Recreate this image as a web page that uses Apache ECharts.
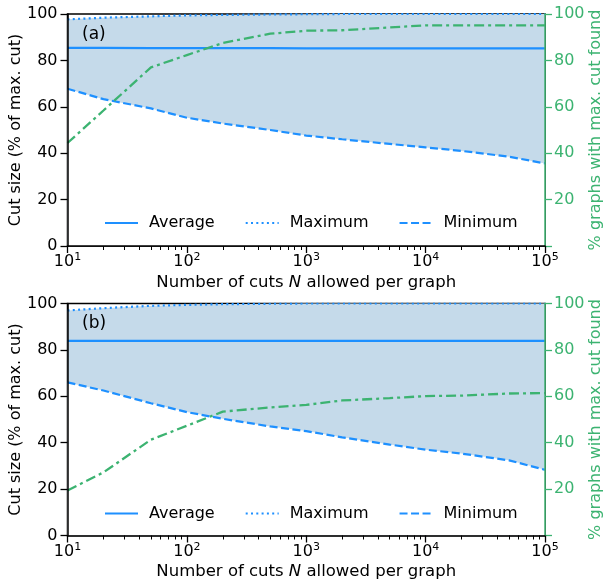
<!DOCTYPE html>
<html><head><meta charset="utf-8">
<script src="https://cdn.jsdelivr.net/npm/echarts@6/dist/echarts.min.js"></script>
<style>html,body{margin:0;padding:0;background:#fff}#c{width:605px;height:586px}</style>
</head><body><div id="c"></div>
<script>
// ---- data ----
const cuts = [10, 20, 50, 100, 200, 500, 1000, 2000, 5000, 10000, 20000, 50000, 100000];
const avgA = [85.4, 85.4, 85.3, 85.3, 85.3, 85.3, 85.2, 85.2, 85.2, 85.2, 85.2, 85.2, 85.2];
const maxA = [97.7, 98.4, 99.0, 99.4, 99.6, 99.8, 99.9, 100, 100, 100, 100, 100, 100];
const minA = [67.8, 63.3, 59.3, 55.3, 52.8, 50.0, 47.6, 46.0, 44.0, 42.5, 41.0, 38.5, 35.6];
const foundA = [44.4, 58.4, 77.0, 82.3, 87.5, 91.5, 92.8, 93.0, 94.2, 95.1, 95.1, 95.1, 95.1];
const avgB = [83.9, 83.9, 83.9, 83.9, 83.9, 83.9, 83.9, 83.9, 83.9, 83.9, 83.9, 83.9, 83.9];
const maxB = [97.0, 98.0, 99.0, 99.4, 99.7, 99.9, 100, 100, 100, 100, 100, 100, 100];
const minB = [66.0, 62.5, 57.0, 53.2, 50.3, 47.0, 45.0, 42.3, 39.2, 37.0, 35.3, 32.4, 28.3];
const foundB = [19.4, 27.2, 41.3, 47.3, 53.4, 55.2, 56.3, 58.2, 59.2, 60.1, 60.3, 61.2, 61.4];
const panelLabels = ['(a)', '(b)'];
const minorTicks = [20,30,40,50,60,70,80,90,200,300,400,500,600,700,800,900,2000,3000,4000,5000,6000,7000,8000,9000,20000,30000,40000,50000,60000,70000,80000,90000];
const legendNames = ['Average', 'Maximum', 'Minimum'];

// ---- style ----
const FONT = 'DejaVu Sans';
const BLUE = '#1e90ff';
const FILL = '#c5daea';
const GREEN = '#3cb371';
const grids = [
  {left: 67.5, right: 60, top: 14, height: 232},
  {left: 67.5, right: 60, top: 303.5, height: 232}
];
const legendTops = [215, 505.5];

const pair = (ys) => cuts.map((x, i) => [x, ys[i]]);
const xAxes = [], yAxes = [], series = [], legends = [], titles = [];
const panels = [[avgA, maxA, minA, foundA], [avgB, maxB, minB, foundB]];

panels.forEach((p, k) => {
  const [avg, mx, mn, found] = p;
  xAxes.push({
    type: 'log', logBase: 10, min: 10, max: 100000, gridIndex: k, z: 6,
    axisLine: {show: true, onZero: false, lineStyle: {color: '#000', width: 1.5}},
    axisTick: {show: true, length: 7, lineStyle: {color: '#000', width: 1.3}},
    splitLine: {show: false},
    axisLabel: {
      margin: 6, color: '#000',
      formatter: v => '{b|10}{s|' + Math.round(Math.log10(v)) + '}',
      rich: {
        b: {fontSize: 16, fontFamily: FONT, color: '#000', lineHeight: 20},
        s: {fontSize: 11, fontFamily: FONT, color: '#000', lineHeight: 10, verticalAlign: 'top'}
      }
    },
    name: 'Number of cuts {i|N} allowed per graph',
    nameLocation: 'middle', nameGap: 28, nameMoveOverlap: false,
    nameTextStyle: {fontSize: 16.5, fontFamily: FONT, color: '#000',
      rich: {i: {fontSize: 16.5, fontFamily: FONT, fontStyle: 'italic', color: '#000'}}}
  });
  xAxes.push({
    type: 'log', logBase: 10, min: 10, max: 100000, gridIndex: k, position: 'bottom', z: 6,
    axisLine: {show: false}, axisLabel: {show: false}, splitLine: {show: false},
    axisTick: {show: true, length: 4, customValues: minorTicks,
      lineStyle: {color: '#000', width: 1}}
  });
  yAxes.push({
    type: 'value', min: 0, max: 100, interval: 20, gridIndex: k, position: 'left', z: 6,
    axisLine: {show: true, lineStyle: {color: '#000', width: 1.5}},
    axisTick: {show: true, length: 7, lineStyle: {color: '#000', width: 1.3}},
    splitLine: {show: false},
    axisLabel: {fontSize: 16, fontFamily: FONT, color: '#000', margin: 10},
    name: 'Cut size (% of max. cut)', nameLocation: 'middle', nameRotate: 90, nameGap: 44,
    nameMoveOverlap: false,
    nameTextStyle: {fontSize: 16, fontFamily: FONT, color: '#000'}
  });
  yAxes.push({
    type: 'value', min: 0, max: 100, interval: 20, gridIndex: k, position: 'right', z: 6,
    axisLine: {show: true, lineStyle: {color: GREEN, width: 1.5}},
    axisTick: {show: true, length: 7, lineStyle: {color: GREEN, width: 1.3}},
    splitLine: {show: false},
    axisLabel: {fontSize: 16, fontFamily: FONT, color: GREEN, margin: 9,
      formatter: v => v === 0 ? '' : String(v)},
    name: '% graphs with max. cut found', nameLocation: 'middle', nameRotate: 90, nameGap: 43,
    nameMoveOverlap: false,
    nameTextStyle: {fontSize: 16, fontFamily: FONT, color: GREEN}
  });
  const xi = 2 * k, yi = 2 * k, yr = 2 * k + 1;
  const base = {type: 'line', xAxisIndex: xi, yAxisIndex: yi, symbol: 'none', silent: true, animation: false};
  // shaded band between min and max: max area (filled), then min area masked in white
  series.push(Object.assign({}, base, {
    name: '_bandTop' + k, data: pair(mx), z: 1,
    lineStyle: {opacity: 0}, areaStyle: {color: FILL, opacity: 1, origin: 'start'}
  }));
  series.push(Object.assign({}, base, {
    name: '_bandBottom' + k, data: pair(mn), z: 1,
    lineStyle: {opacity: 0}, areaStyle: {color: '#ffffff', opacity: 1, origin: 'start'}
  }));
  series.push(Object.assign({}, base, {
    name: 'Average', data: pair(avg), z: 3,
    itemStyle: {color: BLUE}, lineStyle: {color: BLUE, width: 2.2, type: 'solid'}
  }));
  series.push(Object.assign({}, base, {
    name: 'Maximum', data: pair(mx), z: 3,
    itemStyle: {color: BLUE}, lineStyle: {color: BLUE, width: 2.2, type: [2, 3.3]}
  }));
  series.push(Object.assign({}, base, {
    name: 'Minimum', data: pair(mn), z: 3,
    itemStyle: {color: BLUE}, lineStyle: {color: BLUE, width: 2.2, type: [8, 3.5]}
  }));
  series.push(Object.assign({}, base, {
    name: '_found' + k, yAxisIndex: yr, data: pair(found), z: 4,
    itemStyle: {color: GREEN}, lineStyle: {color: GREEN, width: 2.3, type: [10, 4, 3, 4]}
  }));
  legends.push({
    data: legendNames, left: 104, top: legendTops[k], orient: 'horizontal',
    itemWidth: 33, itemHeight: 14, itemGap: 30, padding: 0, selectedMode: false,
    itemStyle: {color: 'rgba(0,0,0,0)', borderWidth: 0, opacity: 0},
    textStyle: {fontSize: 16, fontFamily: FONT, color: '#000', padding: [0, 0, 0, 6]}
  });
  titles.push({
    text: panelLabels[k], left: 82, top: grids[k].top + 12, padding: 0,
    textStyle: {fontSize: 17, fontFamily: FONT, fontWeight: 'normal', color: '#000'}
  });
});

const chart = echarts.init(document.getElementById('c'), null, {renderer: 'canvas'});
chart.setOption({
  animation: false,
  backgroundColor: '#fff',
  title: titles,
  grid: grids.map(g => Object.assign({show: true, borderColor: '#000', borderWidth: 1.5,
    backgroundColor: 'transparent', containLabel: false, outerBoundsMode: 'none'}, g)),
  legend: legends,
  xAxis: xAxes,
  yAxis: yAxes,
  series: series
});
</script>
</body></html>
